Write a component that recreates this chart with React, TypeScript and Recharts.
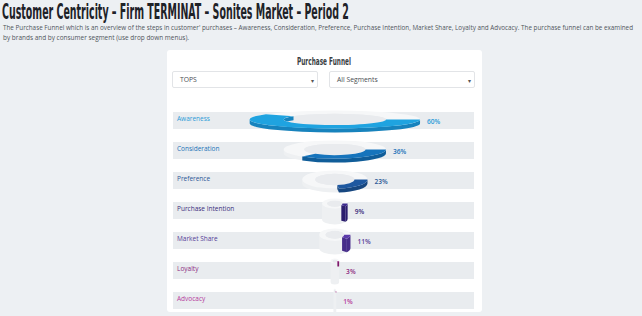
import React, { useLayoutEffect, useRef, useState } from 'react';
import { BarChart, Bar, XAxis, YAxis, LabelList } from 'recharts';

const TITLE = 'Customer Centricity – Firm TERMINAT – Sonites Market – Period 2';
const DESC1 =
  "The Purchase Funnel which is an overview of the steps in customer' purchases – Awareness, Consideration, Preference, Purchase Intention, Market Share, Loyalty and Advocacy. The purchase funnel can be examined";
const DESC2 = 'by brands and by consumer segment (use drop down menus).';
const CHART_TITLE = 'Purchase Funnel';
const brandOptions = ['TOPS'];
const segmentOptions = ['All Segments'];

const stages = ['Awareness', 'Consideration', 'Preference', 'Purchase Intention', 'Market Share', 'Loyalty', 'Advocacy'];
const values = [60, 36, 23, 9, 11, 3, 1];

const topColors = ['#1fa3e0', '#1674bc', '#1e58a0', '#3c2a8e', '#5c3bab', '#a02088', '#c84aa5'];
const sideColors = ['#1783bd', '#105d99', '#174780', '#2b1d6e', '#472d8a', '#7e186a', '#a03886'];
const labelColors = ['#2b9bd8', '#2272b8', '#2b5797', '#3a2c7c', '#563d98', '#8c2a82', '#b53a9c'];

const data = stages.map((name, i) => ({ name, value: values[i] }));

const P = (cx: number, cy: number, rx: number, ry: number, t: number) =>
  [cx + rx * Math.cos(t), cy + ry * Math.sin(t)] as [number, number];

const fmt = (p: [number, number]) => `${p[0].toFixed(2)},${p[1].toFixed(2)}`;

const ellipsePath = (cx: number, cy: number, rx: number, ry: number) =>
  `M${(cx - rx).toFixed(2)},${cy.toFixed(2)} A${rx},${ry} 0 1 0 ${(cx + rx).toFixed(2)},${cy.toFixed(2)} A${rx},${ry} 0 1 0 ${(cx - rx).toFixed(2)},${cy.toFixed(2)} Z`;

const Ring = (props: any) => {
  const { x, y, width, height, payload } = props;
  const idx = stages.indexOf(payload?.name);
  const value = values[idx];
  const R = Math.max(width / 2, 0.9);
  const cx = x + width / 2;
  const bandC = y + height / 2;
  const ry = Math.min(9, Math.max(2.5, R * 0.4));
  const Htot = R < 20 ? 26 : 22;
  const d = Htot - 2 * ry;
  const dc = Math.min(d, R * 1.2);
  const cy = bandC + 1 - Htot / 2 + ry;
  const r = R * 0.6;
  const ryi = ry * 0.62;
  const phi = (value / 100) * Math.PI * 2;
  const large = phi > Math.PI ? 1 : 0;
  const top = topColors[idx];
  const side = sideColors[idx];
  const clipId = `hole-${idx}`;

  const gWall = `M${fmt(P(cx, cy, R, ry, Math.PI))} A${R},${ry} 0 0 0 ${fmt(P(cx, cy, R, ry, 0))} L${fmt(
    P(cx, cy + d, R, ry, 0)
  )} A${R},${ry} 0 0 1 ${fmt(P(cx, cy + d, R, ry, Math.PI))} Z`;
  const gTop = ellipsePath(cx, cy, R, ry) + ' ' + ellipsePath(cx, cy, r, ryi);

  const m = Math.min(phi, Math.PI);
  const cWall = `M${fmt(P(cx, cy, R, ry, 0))} A${R},${ry} 0 0 1 ${fmt(P(cx, cy, R, ry, m))} L${fmt(
    P(cx, cy + dc, R, ry, m)
  )} A${R},${ry} 0 0 0 ${fmt(P(cx, cy + dc, R, ry, 0))} Z`;
  const cTop = `M${fmt(P(cx, cy, R, ry, 0))} A${R},${ry} 0 ${large} 1 ${fmt(P(cx, cy, R, ry, phi))} L${fmt(
    P(cx, cy, r, ryi, phi)
  )} A${r},${ryi} 0 ${large} 0 ${fmt(P(cx, cy, r, ryi, 0))} Z`;
  const capVisible = Math.cos(phi) > 0;
  const cap = `M${fmt(P(cx, cy, R, ry, phi))} L${fmt(P(cx, cy, r, ryi, phi))} L${fmt(
    P(cx, cy + dc, r, ryi, phi)
  )} L${fmt(P(cx, cy + dc, R, ry, phi))} Z`;
  const innerWall =
    phi > Math.PI
      ? `M${fmt(P(cx, cy, r, ryi, Math.PI))} A${r},${ryi} 0 0 1 ${fmt(P(cx, cy, r, ryi, phi))} L${fmt(
          P(cx, cy + dc, r, ryi, phi)
        )} A${r},${ryi} 0 0 0 ${fmt(P(cx, cy + dc, r, ryi, Math.PI))} Z`
      : null;

  return (
    <g>
      <defs>
        <clipPath id={clipId}>
          <path d={ellipsePath(cx, cy, r, ryi)} />
        </clipPath>
      </defs>
      <path d={gWall} fill="#eef0f2" />
      <path d={gTop} fill="#f6f7f8" fillRule="evenodd" />
      <path d={ellipsePath(cx, cy, r, ryi)} fill="#e9ebee" />
      {innerWall && <path d={innerWall} fill={side} clipPath={`url(#${clipId})`} />}
      {capVisible && <path d={cap} fill={side} />}
      <path d={cWall} fill={side} />
      <path d={cTop} fill={top} />
    </g>
  );
};

const PctLabel = (props: any) => {
  const { x, y, width, height, value, index } = props;
  return (
    <text
      x={x + width + 7}
      y={y + height / 2 + 3.5}
      fontSize={6.6}
      fontWeight={600}
      fontFamily='"Open Sans", sans-serif'
      fill={labelColors[index]}
    >
      {`${value}%`}
    </text>
  );
};

const StageTick = (props: any) => {
  const { y, payload } = props;
  const i = stages.indexOf(payload.value);
  return (
    <text x={5} y={y + 1} fontSize={6.5} fontFamily='"Open Sans", sans-serif' fill={labelColors[i]}>
      {payload.value}
    </text>
  );
};

// text scaled horizontally to a target width (condensed display face)
const FitText = ({
  x,
  y,
  width,
  fontSize,
  fill,
  anchorCenter,
  children,
}: {
  x: number;
  y: number;
  width: number;
  fontSize: number;
  fill: string;
  anchorCenter?: boolean;
  children: string;
}) => {
  const ref = useRef<SVGTextElement>(null);
  const [sx, setSx] = useState(1);
  useLayoutEffect(() => {
    if (ref.current) {
      const w = ref.current.getComputedTextLength();
      if (w > 0) setSx(width / w);
    }
  }, [width, children]);
  const left = anchorCenter ? x - width / 2 : x;
  return (
    <text
      ref={ref}
      transform={`translate(${left},${y}) scale(${sx},1)`}
      x={0}
      y={0}
      fontFamily='"DejaVu Sans Condensed", "DejaVu Sans", sans-serif'
      fontWeight={700}
      fontSize={fontSize}
      fill={fill}
    >
      {children}
    </text>
  );
};

const Select = ({ left, text }: { left: number; text: string }) => (
  <div
    style={{
      position: 'absolute',
      left,
      top: 71,
      width: 144,
      height: 15,
      background: '#fff',
      border: '1px solid #e2e4e7',
      borderRadius: 2,
      boxSizing: 'content-box',
    }}
  >
    <svg width={144} height={15} style={{ position: 'absolute', left: 0, top: 0 }}>
      <text x={7} y={10.3} fontSize={6.8} fontFamily='"Open Sans", sans-serif' fill="#4a4e53">
        {text}
      </text>
      <text x={139} y={10.5} fontSize={6} fill="#555" textAnchor="middle">
        ▾
      </text>
    </svg>
  </div>
);

export default function App() {
  return (
    <div
      style={{
        position: 'absolute',
        left: 0,
        top: 0,
        width: 642,
        height: 316,
        background: '#edf0f3',
        overflow: 'hidden',
      }}
    >
      <svg width={642} height={50} style={{ position: 'absolute', left: 0, top: 0 }}>
        <FitText x={2} y={18.5} width={347} fontSize={20.5} fill="#1e2228">
          {TITLE}
        </FitText>
        <text
          x={3}
          y={30.3}
          fontFamily='"Open Sans", sans-serif'
          fontSize={6.4}
          fill="#50555b"
          textLength={630}
          lengthAdjust="spacingAndGlyphs"
        >
          {DESC1}
        </text>
        <text
          x={3}
          y={40.3}
          fontFamily='"Open Sans", sans-serif'
          fontSize={6.4}
          fill="#50555b"
          textLength={186}
          lengthAdjust="spacingAndGlyphs"
        >
          {DESC2}
        </text>
      </svg>
      <div
        style={{
          position: 'absolute',
          left: 167,
          top: 50,
          width: 315,
          height: 262,
          background: '#ffffff',
          borderRadius: 3,
        }}
      />
      <svg width={642} height={20} style={{ position: 'absolute', left: 0, top: 50 }}>
        <FitText x={324} y={15} width={54} fontSize={11} fill="#3a3f44" anchorCenter>
          {CHART_TITLE}
        </FitText>
      </svg>
      <Select left={172} text={brandOptions[0]} />
      <Select left={329} text={segmentOptions[0]} />
      <div style={{ position: 'absolute', left: 172, top: 105 }}>
        <BarChart
          width={302}
          height={210}
          data={data}
          layout="vertical"
          margin={{ top: 0, right: 0, bottom: 0, left: 0 }}
          barSize={17}
        >
          <XAxis type="number" hide domain={[-114, 98]} />
          <YAxis
            type="category"
            dataKey="name"
            width={1}
            axisLine={false}
            tickLine={false}
            interval={0}
            tick={<StageTick />}
          />
          <Bar
            dataKey={(d: any) => [-d.value, d.value]}
            background={{ fill: '#e9ecef' }}
            shape={<Ring />}
            isAnimationActive={false}
          >
            <LabelList dataKey="value" content={<PctLabel />} />
          </Bar>
        </BarChart>
      </div>
    </div>
  );
}
